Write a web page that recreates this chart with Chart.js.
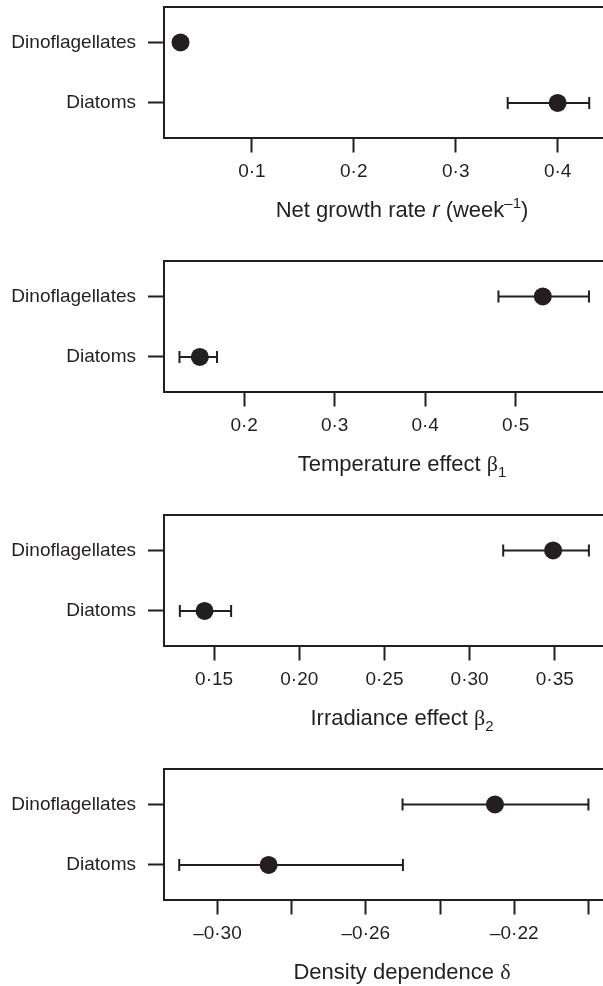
<!DOCTYPE html>
<html>
<head>
<meta charset="utf-8">
<script src="https://cdn.jsdelivr.net/npm/chart.js@4"></script>
<style>
	html, body { margin: 0; padding: 0; background: #fff; overflow: hidden; }
	canvas { display: block; }
</style>
</head>
<body>
<canvas id="chart_growth" width="650" height="254"></canvas>
<canvas id="chart_temp" width="650" height="254"></canvas>
<canvas id="chart_irr" width="650" height="254"></canvas>
<canvas id="chart_dens" width="650" height="254"></canvas>
<script>
const categories = ['Dinoflagellates', 'Diatoms'];

const growthMean = [0.030, 0.400];
const growthLow = [null, 0.351];
const growthHigh = [null, 0.431];
const growthTicks = [0.1, 0.2, 0.3, 0.4];
const growthTickLabels = ['0·1', '0·2', '0·3', '0·4'];

const tempMean = [0.530, 0.151];
const tempLow = [0.481, 0.1285];
const tempHigh = [0.581, 0.170];
const tempTicks = [0.2, 0.3, 0.4, 0.5];
const tempTickLabels = ['0·2', '0·3', '0·4', '0·5'];

const irrMean = [0.349, 0.1444];
const irrLow = [0.3197, 0.1299];
const irrHigh = [0.370, 0.160];
const irrTicks = [0.15, 0.20, 0.25, 0.30, 0.35];
const irrTickLabels = ['0·15', '0·20', '0·25', '0·30', '0·35'];

const densMean = [-0.2252, -0.2862];
const densLow = [-0.2501, -0.3103];
const densHigh = [-0.200, -0.250];
const densTicks = [-0.30, -0.28, -0.26, -0.24, -0.22, -0.20];
const densTickLabels = ['–0·30', '', '–0·26', '', '–0·22', ''];

const ink = '#231f20';
const sans = "'Liberation Sans', Arial, Helvetica, sans-serif";
const yPos = categories.map((c, i) => categories.length - i);

// top line of the box + axis title with italic / sub / superscript parts
function framePlugin(parts) {
	return {
		id: 'frame',
		afterDraw(chart) {
			const { ctx, chartArea } = chart;
			ctx.save();
			ctx.strokeStyle = ink;
			ctx.lineWidth = 2;
			ctx.beginPath();
			ctx.moveTo(chartArea.left - 1, chartArea.top);
			ctx.lineTo(chartArea.right, chartArea.top);
			ctx.stroke();

			const size = 22;
			const fontOf = kind => {
				if (kind === 'i') return 'italic ' + size + 'px ' + sans;
				if (kind === 'greek') return size + "px 'Liberation Serif', 'DejaVu Serif', serif";
				if (kind === 'sub' || kind === 'sup') return Math.round(size * 0.7) + 'px ' + sans;
				return size + 'px ' + sans;
			};
			let total = 0;
			parts.forEach(p => {
				ctx.font = fontOf(p[1]);
				total += ctx.measureText(p[0]).width;
			});
			let x = (chartArea.left + chartArea.right) / 2 - total / 2;
			const y = chartArea.bottom + 79;
			ctx.fillStyle = ink;
			ctx.textAlign = 'left';
			ctx.textBaseline = 'alphabetic';
			parts.forEach(p => {
				ctx.font = fontOf(p[1]);
				let dy = 0;
				if (p[1] === 'sub') dy = 6;
				if (p[1] === 'sup') dy = -9;
				ctx.fillText(p[0], x, y + dy);
				x += ctx.measureText(p[0]).width;
			});
			ctx.restore();
		},
	};
}

function makePanel(id, mean, low, high, ticks, tickLabels, min, max, titleParts) {
	const datasets = [
		{
			data: mean.map((v, i) => ({ x: v, y: yPos[i] })),
			backgroundColor: ink,
			borderWidth: 0,
			pointRadius: 9,
			pointHoverRadius: 9,
			order: 0,
		},
	];
	mean.forEach((v, i) => {
		if (low[i] == null) return;
		datasets.push({
			data: [
				{ x: low[i], y: yPos[i] },
				{ x: high[i], y: yPos[i] },
			],
			showLine: true,
			borderColor: ink,
			borderWidth: 2,
			pointStyle: 'line',
			rotation: 90,
			pointRadius: 6,
			pointHoverRadius: 6,
			pointBorderWidth: 2,
			pointBorderColor: ink,
			order: 1,
		});
	});

	return new Chart(document.getElementById(id), {
		type: 'scatter',
		data: { datasets: datasets },
		plugins: [framePlugin(titleParts)],
		options: {
			responsive: false,
			animation: false,
			events: [],
			layout: { autoPadding: false, padding: { top: 7, right: 10, bottom: 0, left: 0 } },
			plugins: {
				legend: { display: false },
				tooltip: { enabled: false },
			},
			scales: {
				x: {
					type: 'linear',
					position: 'bottom',
					min: min,
					max: max,
					afterBuildTicks: scale => {
						scale.ticks = ticks.map(v => ({ value: v }));
					},
					afterFit: scale => {
						scale.height = 254 - 7 - 130.5;
						scale.paddingLeft = 0;
						scale.paddingRight = 0;
					},
					ticks: {
						autoSkip: false,
						maxRotation: 0,
						padding: 8,
						color: ink,
						font: { family: sans, size: 19 },
						callback: (v, i) => tickLabels[i],
					},
					grid: {
						drawOnChartArea: false,
						drawTicks: true,
						tickLength: 15,
						tickWidth: 2,
						tickColor: ink,
					},
					border: { display: true, color: ink, width: 2 },
				},
				y: {
					type: 'linear',
					min: 0.43,
					max: 2.585,
					afterBuildTicks: scale => {
						scale.ticks = yPos.map(v => ({ value: v }));
					},
					afterFit: scale => {
						scale.width = 164;
						scale.paddingTop = 0;
						scale.paddingBottom = 0;
					},
					ticks: {
						autoSkip: false,
						padding: 12,
						color: ink,
						font: { family: sans, size: 19 },
						callback: v => categories[yPos.indexOf(v)],
					},
					grid: {
						drawOnChartArea: false,
						drawTicks: true,
						tickLength: 16,
						tickWidth: 2,
						tickColor: ink,
					},
					border: { display: true, color: ink, width: 2 },
				},
			},
		},
	});
}

makePanel('chart_growth', growthMean, growthLow, growthHigh, growthTicks, growthTickLabels, 0.0138, 0.4808,
	[['Net growth rate ', 'n'], ['r', 'i'], [' (week', 'n'], ['–1', 'sup'], [')', 'n']]);
makePanel('chart_temp', tempMean, tempLow, tempHigh, tempTicks, tempTickLabels, 0.1114, 0.6374,
	[['Temperature effect ', 'n'], ['β', 'greek'], ['1', 'sub']]);
makePanel('chart_irr', irrMean, irrLow, irrHigh, irrTicks, irrTickLabels, 0.1206, 0.40,
	[['Irradiance effect ', 'n'], ['β', 'greek'], ['2', 'sub']]);
makePanel('chart_dens', densMean, densLow, densHigh, densTicks, densTickLabels, -0.3144, -0.1861,
	[['Density dependence ', 'n'], ['δ', 'greek']]);
</script>
</body>
</html>
